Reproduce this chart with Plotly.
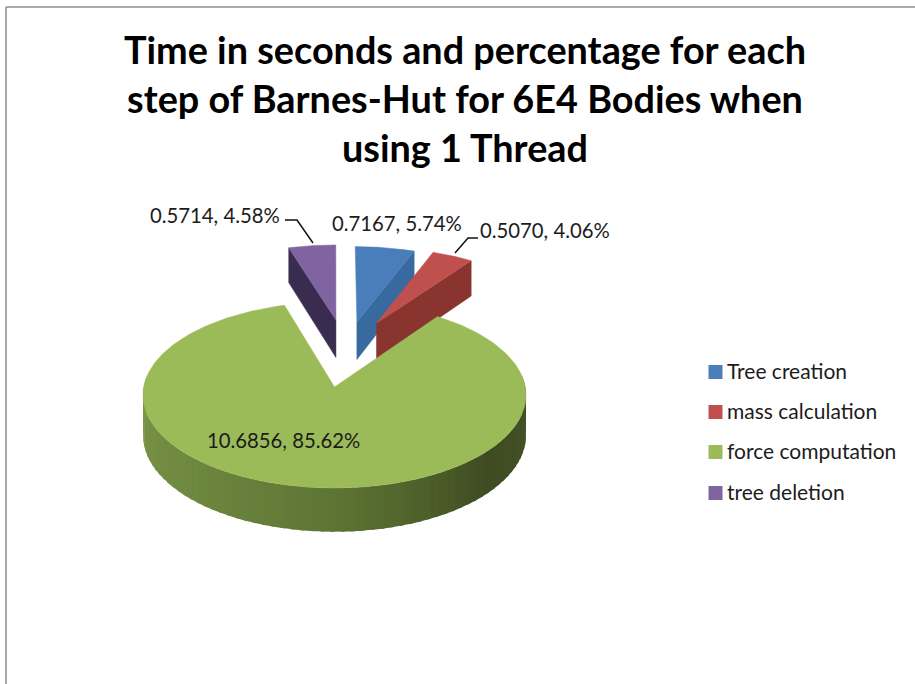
import math
import plotly.graph_objects as go

# ---- data ----
categories = ["Tree creation", "mass calculation", "force computation", "tree deletion"]
seconds = [0.7167, 0.5070, 10.6856, 0.5714]
title_lines = ["Time in seconds and percentage for each",
               "step of Barnes-Hut for 6E4 Bodies when",
               "using 1 Thread"]

# ---- style / projection ----
top_colors = ["#4a7ebb", "#c0504d", "#9bbb59", "#8064a2"]
side_colors = ["#386a9f", "#8a3430", "#5d7534", "#3a2b50"]
wall_stops = [(0.0, (125, 150, 72)), (0.25, (111, 138, 64)), (0.5, (93, 117, 52)),
              (0.75, (63, 76, 34)), (1.0, (69, 83, 42))]
CX, CY, RX, RY, PERSP, DEPTH = 334.5, 387.0, 190.8, 92.3, 0.086, 40.0
explode = [(0.125, 0.75), (0.234, 0.735), (0.0, 0.0), (0.008, 0.774)]
wall_edge = ["end", "end", None, "start"]
label_pos = [(397, 223), (545, 230), (283, 439.5), (215, 215)]
leaders = [None, ([455, 468, 478], [253, 238, 238]), None, ([285, 297, 313], [220, 220, 243])]
FONT = "Lato"
TEXT = "#1c1c1c"


def proj(X, Y, z=0.0):
    s = 1.0 / (1.0 + PERSP * Y)
    return CX + RX * X * s, CY - RY * Y * s + DEPTH * s * z


def rim(theta, off, z=0.0):
    t = math.radians(theta)
    return proj(off[0] + math.sin(t), off[1] + math.cos(t), z)


def arc(a, b, off, z=0.0, n=60):
    return [rim(a + (b - a) * i / n, off, z) for i in range(n + 1)]


def poly(points, color, width=0.5):
    xs = [p[0] for p in points] + [points[0][0]]
    ys = [p[1] for p in points] + [points[0][1]]
    return go.Scatter(x=xs, y=ys, mode="lines", fill="toself", fillcolor=color,
                      line=dict(color=color, width=width), hoverinfo="skip", showlegend=False)


def wall_color(t):
    for (t0, c0), (t1, c1) in zip(wall_stops, wall_stops[1:]):
        if t <= t1:
            f = (t - t0) / (t1 - t0)
            return "rgb(%d,%d,%d)" % tuple(round(u + (v - u) * f) for u, v in zip(c0, c1))
    return "rgb(%d,%d,%d)" % wall_stops[-1][1]


total = sum(seconds)
spans, start = [], 0.0
for v in seconds:
    spans.append((start, start + 360.0 * v / total))
    start += 360.0 * v / total

fig = go.Figure()

# exploded slices, back to front
for i in (3, 0, 1):
    a, b = spans[i]
    off = explode[i]
    edge = a if wall_edge[i] == "start" else b
    fig.add_trace(poly([proj(*off), rim(edge, off), rim(edge, off, 1), proj(*off, 1)], side_colors[i]))
    fig.add_trace(poly([proj(*off)] + arc(a, b, off), top_colors[i]))

# big slice: outer wall, then top
a, b = spans[2]
off = explode[2]
N = 70
w0, w1 = 83.0, 277.0
for k in range(N):
    t0 = w0 + (w1 - w0) * k / N
    t1 = w0 + (w1 - w0) * (k + 1.4) / N if k < N - 1 else w1
    pts = arc(t0, t1, off, 0, 2) + arc(t1, t0, off, 1, 2)
    fig.add_trace(poly(pts, wall_color(1 - (k + 0.5) / N), width=0))
fig.add_trace(poly([proj(*off)] + arc(a, b, off, 0, 240), top_colors[2]))

# leader lines
for ln in leaders:
    if ln:
        fig.add_trace(go.Scatter(x=ln[0], y=ln[1], mode="lines", line=dict(color="#111111", width=1.5),
                                 hoverinfo="skip", showlegend=False))

# data labels
for i, v in enumerate(seconds):
    fig.add_annotation(x=label_pos[i][0], y=label_pos[i][1], xref="x", yref="y", showarrow=False,
                       text=f"{v:.4f}, {100 * v / total:.2f}%", font=dict(family=FONT, size=20.3, color=TEXT))

# legend keys and names
legend_y = [372, 412, 452, 493]
for name, col, y in zip(categories, top_colors, legend_y):
    fig.add_trace(go.Scatter(x=[715.5], y=[y], mode="markers", name=name,
                             marker=dict(symbol="square", size=14, color=col), showlegend=False))
    fig.add_annotation(x=725, y=y - 1.5, xref="x", yref="y", xanchor="left", showarrow=False, text=name,
                       font=dict(family=FONT, size=21, color=TEXT))

fig.update_layout(
    width=915, height=684, margin=dict(l=0, r=0, t=0, b=0),
    paper_bgcolor="white", plot_bgcolor="white", showlegend=False,
    title=dict(text="<br>".join(title_lines), x=465 / 915, xanchor="center", y=1 - 64 / 684, yanchor="top",
               font=dict(family=FONT, size=37.8, color="#000000", weight="bold")),
    xaxis=dict(range=[0, 915], visible=False, fixedrange=True),
    yaxis=dict(range=[684, 0], visible=False, fixedrange=True),
    shapes=[dict(type="line", xref="x", yref="y", x0=6, y0=7, x1=915, y1=7, line=dict(color="#8c8c8c", width=1.5)),
            dict(type="line", xref="x", yref="y", x0=6, y0=7, x1=6, y1=684, line=dict(color="#8c8c8c", width=1.5))],
)
fig.write_html("out.html", post_script="document.body.style.margin='0';",
               config=dict(displayModeBar=False))
